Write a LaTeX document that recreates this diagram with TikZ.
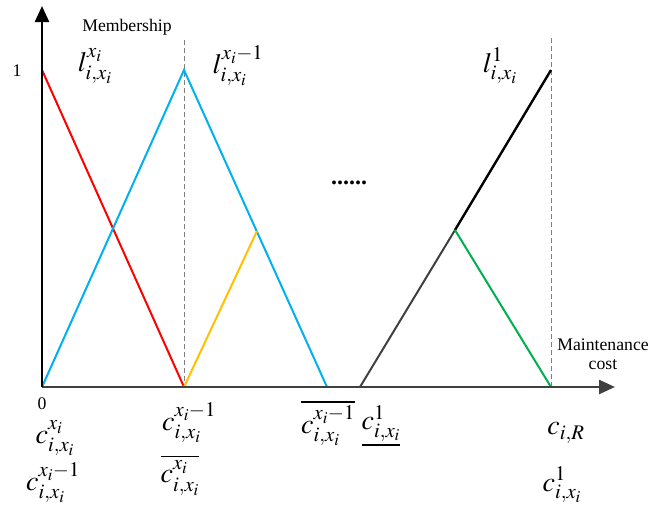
\documentclass[tikz,border=0pt]{standalone}
\usepackage{mathptmx}
\usepackage{fontspec}
\setmainfont{Liberation Serif}
\usetikzlibrary{arrows.meta}
\definecolor{cblue}{RGB}{0,176,240}
\definecolor{cred}{RGB}{255,0,0}
\definecolor{cyellow}{RGB}{255,192,0}
\definecolor{cgreen}{RGB}{0,176,80}
\definecolor{axgray}{RGB}{64,64,64}
\tikzset{
  curve/.style={line width=2pt},
  axis/.style={line width=2.5pt,-{Triangle[length=16pt,width=14pt]}},
  guide/.style={gray,line width=0.9pt,dash pattern=on 5pt off 3pt},
  txt/.style={font=\fontsize{17.7}{20}\selectfont,inner sep=0pt},
  mlab/.style={font=\fontsize{28}{30}\selectfont,inner sep=0pt},
}
\begin{document}
\begin{tikzpicture}[x=1pt,y=-1pt]
\useasboundingbox (0,0) rectangle (667,506);
% key points
\coordinate (O) at (42,387);
\coordinate (ytip) at (42,6);
\coordinate (xtip) at (615,387);
\coordinate (P1) at (42,70);
\coordinate (P2) at (184,70);
\coordinate (Q2) at (184,387);
\coordinate (Q3) at (327,387);
\coordinate (Y) at (257,231);
\coordinate (Q4) at (360,387);
\coordinate (G) at (455,230);
\coordinate (P5) at (551,70);
\coordinate (Q5) at (551,387);
\coordinate (D1) at (184,40);
\coordinate (D2) at (551,38);
% guides
\draw[guide] (D1) -- (Q2);
\draw[guide] (D2) -- (Q5);
% curves
\draw[curve,cred] (P1) -- (Q2);
\draw[curve,cblue] (O) -- (P2) -- (Q3);
\draw[curve,cyellow] (Q2) -- (Y);
\draw[curve,axgray] (Q4) -- (G);
\draw[curve,black,line width=2.4pt] (G) -- (P5);
\draw[curve,cgreen] (G) -- (Q5);
% axes
\draw[axis,axgray] (O) -- (xtip);
\draw[axis,black] (O) -- (ytip);
% texts
\node[txt] (memb) at (127,27) {Membership};
\node[txt] (one) at (17,71) {1};
\node[txt,font=\fontsize{24}{26}\selectfont\bfseries] (dots) at (349,183) {......};
\node[txt,align=center] (maint) at (603,354) {Maintenance\\[-1pt]cost};
\node[txt] (zero) at (42,404) {0};
\node[mlab] (l1) at (95,66) {$l^{x_i}_{i,x_i}$};
\node[mlab] (l2) at (238,66) {$l^{x_i-1}_{i,x_i}$};
\node[mlab] (l3) at (500,66) {$l^{1}_{i,x_i}$};
\node[mlab] (c1) at (55,438) {$c^{x_i}_{i,x_i}$};
\node[mlab] (c2) at (53,483) {$c^{x_i-1}_{i,x_i}$};
\node[mlab] (c3) at (189,423) {$c^{x_i-1}_{i,x_i}$};
\node[mlab] (c4) at (180,475) {$\overline{c^{x_i}_{i,x_i}}$};
\node[mlab] (c5) at (328,423) {$\overline{c^{x_i-1}_{i,x_i}}$};
\node[mlab] (c6) at (381,426) {$\underline{c^{1}_{i,x_i}}$};
\node[mlab] (c7) at (566,433) {$c_{i,R}$};
\node[mlab] (c8) at (562,485) {$c^{1}_{i,x_i}$};
\end{tikzpicture}
\end{document}
